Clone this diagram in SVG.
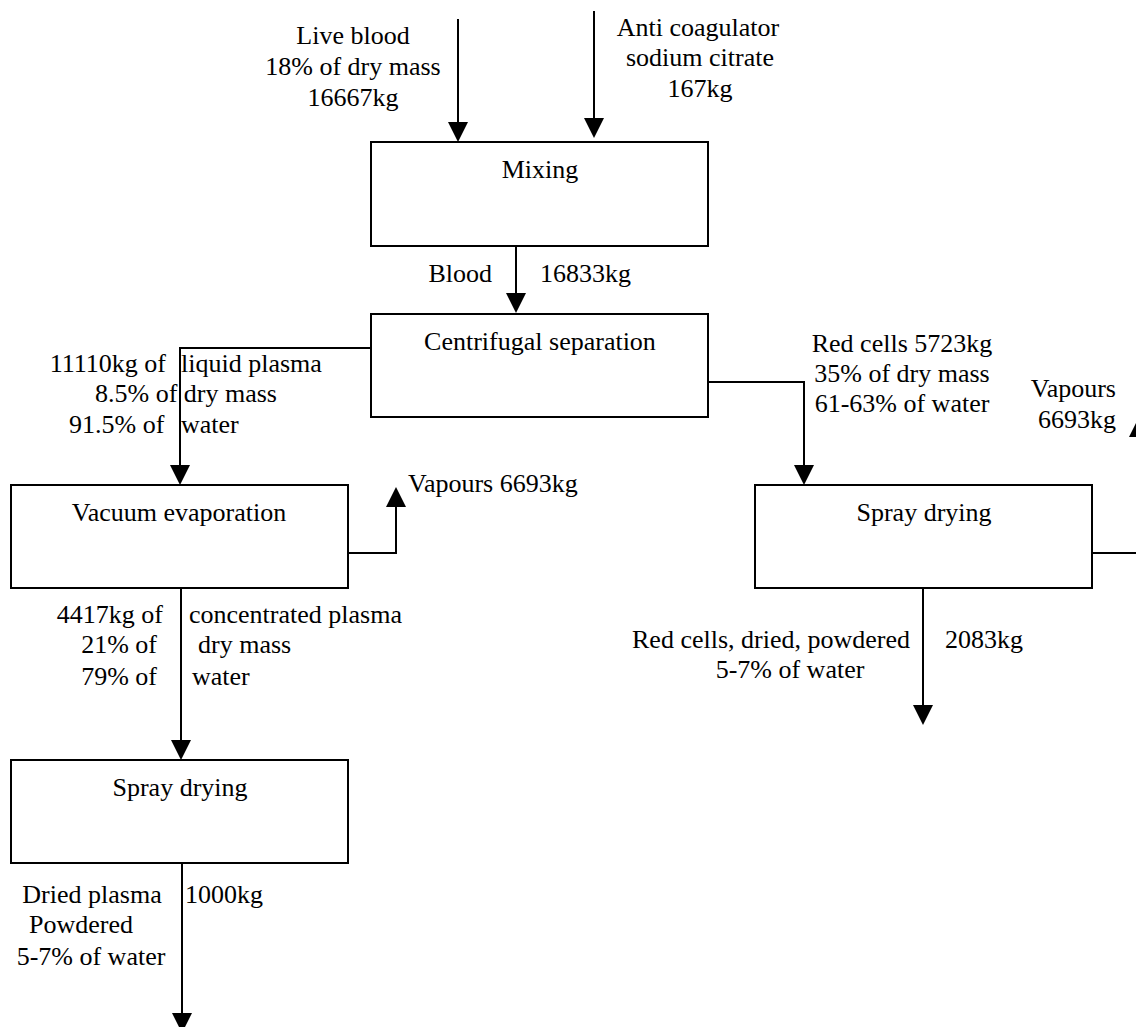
<svg xmlns="http://www.w3.org/2000/svg" width="1136" height="1027" viewBox="0 0 1136 1027">
<style>
.box{fill:#fff;stroke:#000;stroke-width:2}
.ln{fill:none;stroke:#000;stroke-width:2;marker-end:url(#ah)}
text{font-family:'Liberation Serif',Tinos,'Times New Roman',Times,'DejaVu Serif',serif;font-size:26px;fill:#000}
.c{text-anchor:middle}
.e{text-anchor:end}
</style>
<defs>
<marker id="ah" markerUnits="userSpaceOnUse" markerWidth="20" markerHeight="20" refX="0" refY="10" orient="auto" overflow="visible">
<path d="M0,0 L20,10 L0,20 z" fill="#000"/>
</marker>
</defs>
<rect width="1136" height="1027" fill="#fff"/>
<g id="connectors">
<path class="ln" d="M458,19 V122"/>
<path class="ln" d="M594,11 V118"/>
<path class="ln" d="M516,246 V293"/>
<path class="ln" d="M371,348 H180 V465"/>
<path class="ln" d="M348,553 H396 V507"/>
<path class="ln" d="M181,588 V740"/>
<path class="ln" d="M182,863 V1013"/>
<path class="ln" d="M708,382 H804 V465"/>
<path class="ln" d="M923,588 V705"/>
<path class="ln" d="M1092,553 H1139 V437"/>
</g>
<g id="mixing">
<rect class="box" x="371" y="142" width="337" height="104"/>
<text class="c" x="540" y="178">Mixing</text>
</g>
<g id="centrifugal">
<rect class="box" x="371" y="314" width="337" height="103"/>
<text class="c" x="540" y="350">Centrifugal separation</text>
</g>
<g id="vacuum">
<rect class="box" x="11" y="485" width="337" height="103"/>
<text class="c" x="179" y="521">Vacuum evaporation</text>
</g>
<g id="spray-left">
<rect class="box" x="11" y="760" width="337" height="103"/>
<text class="c" x="180" y="796">Spray drying</text>
</g>
<g id="spray-right">
<rect class="box" x="755" y="485" width="337" height="103"/>
<text class="c" x="924" y="521">Spray drying</text>
</g>
<g id="labels">
<text class="c" x="353" y="44">Live blood</text>
<text class="c" x="353" y="75">18% of dry mass</text>
<text class="c" x="353" y="106">16667kg</text>
<text class="c" x="698" y="36">Anti coagulator</text>
<text class="c" x="700" y="66">sodium citrate</text>
<text class="c" x="700" y="97">167kg</text>
<text class="e" x="492" y="282">Blood</text>
<text x="540" y="282">16833kg</text>
<text class="e" x="166" y="372">11110kg of</text>
<text x="181" y="372">liquid plasma</text>
<text x="95" y="402">8.5% of dry mass</text>
<text x="69" y="433">91.5% of</text>
<text x="181" y="433">water</text>
<text x="408" y="492">Vapours 6693kg</text>
<text class="e" x="163" y="623">4417kg of</text>
<text x="189" y="623">concentrated plasma</text>
<text class="e" x="157" y="653">21% of</text>
<text x="198" y="653">dry mass</text>
<text class="e" x="157" y="685">79% of</text>
<text x="192" y="685">water</text>
<text class="c" x="92" y="903">Dried plasma</text>
<text x="185" y="903">1000kg</text>
<text class="c" x="81" y="933">Powdered</text>
<text class="c" x="91" y="965">5-7% of water</text>
<text class="c" x="902" y="352">Red cells 5723kg</text>
<text class="c" x="902" y="382">35% of dry mass</text>
<text class="c" x="902" y="412">61-63% of water</text>
<text class="e" x="1116" y="397">Vapours</text>
<text class="e" x="1116" y="428">6693kg</text>
<text class="e" x="910" y="648">Red cells, dried, powdered</text>
<text x="945" y="648">2083kg</text>
<text class="c" x="790" y="678">5-7% of water</text>
</g>
</svg>
